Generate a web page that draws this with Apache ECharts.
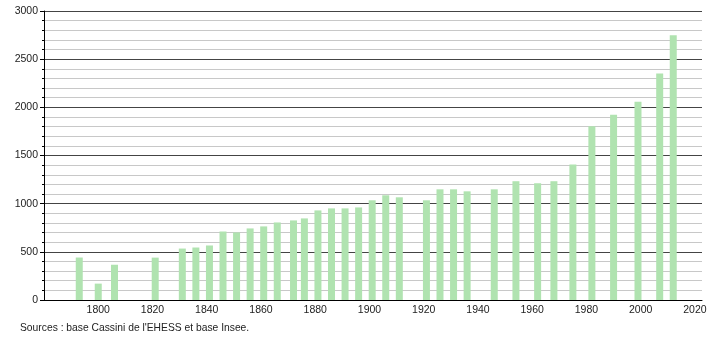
<!DOCTYPE html>
<html>
<head>
<meta charset="utf-8">
<script src="https://cdn.jsdelivr.net/npm/echarts@6/dist/echarts.min.js"></script>
<style>html,body{margin:0;padding:0;background:#fff;}#c{width:710px;height:340px;}</style>
</head>
<body>
<div id="c"></div>
<script>
var years = [1793,1800,1806,1821,1831,1836,1841,1846,1851,1856,1861,1866,1872,1876,1881,1886,1891,1896,1901,1906,1911,1921,1926,1931,1936,1946,1954,1962,1968,1975,1982,1990,1999,2007,2012];
var population = [441,170,366,440,534,545,566,711,701,743,764,805,826,847,930,951,951,961,1035,1087,1066,1035,1149,1149,1128,1149,1233,1212,1233,1406,1803,1924,2059,2350,2748];
var yTicks = [0,500,1000,1500,2000,2500,3000];
var xTickLabels = [1800,1820,1840,1860,1880,1900,1920,1940,1960,1980,2000,2020];
var sourceText = "Sources : base Cassini de l'EHESS et base Insee.";

var chart = echarts.init(document.getElementById('c'));
var font = "'Liberation Sans', Arial, sans-serif";
chart.setOption({
  animation: false,
  grid: {left: 44, right: 8, top: 11, bottom: 40, containLabel: false},
  xAxis: {
    type: 'value', min: 1780, max: 2022.6, interval: 20,
    axisLine: {show: true, lineStyle: {color: '#000', width: 1}},
    axisTick: {show: false},
    splitLine: {show: false},
    axisLabel: {
      color: '#222', fontSize: 10.5, fontFamily: font, margin: 5,
      formatter: function (v) { return xTickLabels.indexOf(v) >= 0 ? String(v) : ''; }
    }
  },
  yAxis: {
    type: 'value', min: yTicks[0], max: yTicks[yTicks.length - 1], interval: 500,
    axisLine: {show: true, lineStyle: {color: '#000', width: 1}},
    axisTick: {show: true, length: 4, lineStyle: {color: '#000'}},
    minorTick: {show: true, splitNumber: 5, length: 2, lineStyle: {color: '#000'}},
    splitLine: {show: true, lineStyle: {color: '#444', width: 1}},
    minorSplitLine: {show: true, lineStyle: {color: '#c8c8c8', width: 1}},
    axisLabel: {color: '#222', fontSize: 10.5, fontFamily: font, margin: 6,
      formatter: function (v) { return String(v); }}
  },
  series: [{
    type: 'bar',
    barWidth: 7,
    itemStyle: {color: '#b0e3b0'},
    data: years.map(function (y, i) { return [y, population[i]]; }),
    z: 3
  }],
  graphic: [{
    type: 'text', left: 20, top: 323,
    style: {text: sourceText, font: '10.3px ' + font, fill: '#222'}
  }]
});
</script>
</body>
</html>
